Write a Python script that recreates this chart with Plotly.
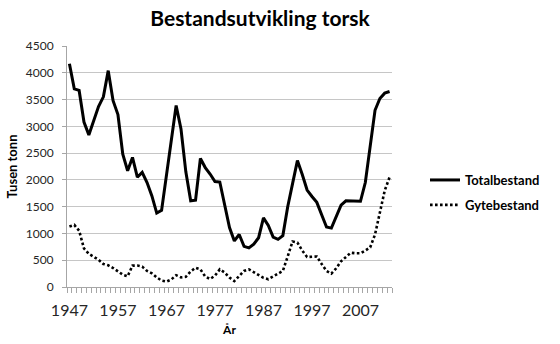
import plotly.graph_objects as go

years = list(range(1947, 2014))

totalbestand = [
    4170, 3700, 3670, 3080, 2840, 3100, 3370, 3550, 4040, 3480,
    3220, 2480, 2170, 2420, 2050, 2140, 1950, 1700, 1380, 1430,
    2090, 2700, 3390, 2950, 2150, 1610, 1620, 2400, 2230, 2110,
    1970, 1960, 1550, 1110, 860, 980, 760, 730, 800, 920,
    1290, 1150, 930, 890, 960, 1500, 1930, 2360, 2100, 1810,
    1690, 1580, 1350, 1120, 1100, 1330, 1530, 1610, 1610, 1600,
    1600, 1950, 2600, 3300, 3520, 3620, 3650,
]

gytebestand = [
    1130, 1160, 1050, 720, 620, 570, 510, 430, 405, 355,
    300, 230, 200, 400, 400, 380, 300, 255, 180, 120,
    100, 140, 220, 180, 190, 290, 360, 330, 195, 150,
    210, 330, 270, 175, 110, 210, 300, 330, 280, 215,
    170, 145, 200, 260, 300, 570, 850, 830, 680, 560,
    560, 570, 430, 300, 250, 350, 480, 560, 640, 630,
    630, 680, 740, 980, 1400, 1800, 2050,
]

x_tickvals = [1947, 1957, 1967, 1977, 1987, 1997, 2007]
x_ticktext = [str(v) for v in x_tickvals]

FONT = "Lato"
AXIS_GRAY = "#a6a6a6"
GRID_GRAY = "#c6c6c6"

fig = go.Figure()
fig.add_trace(go.Scatter(
    x=years, y=totalbestand, name="Totalbestand", mode="lines",
    legendgroup="a",
    line=dict(color="black", width=3),
))
fig.add_trace(go.Scatter(
    x=years, y=gytebestand, name="Gytebestand", mode="lines",
    legendgroup="b",
    line=dict(color="black", width=2.6, dash="2.6px,2.4px"),
))

fig.update_layout(
    width=560, height=344,
    margin=dict(l=67, r=168, t=46, b=57),
    paper_bgcolor="white", plot_bgcolor="white",
    font=dict(family=FONT, color="#262626"),
    title=dict(
        text="<b>Bestandsutvikling torsk</b>",
        font=dict(family=FONT, size=21, color="black"),
        xref="container", x=260/560, xanchor="center",
        yref="container", y=1 - 19/344, yanchor="middle",
    ),
    showlegend=True,
    legend=dict(
        xref="container", x=425/560, xanchor="left",
        yref="container", y=1 - 165/344, yanchor="top",
        font=dict(family=FONT, size=13, color="black", weight="bold"),
        bgcolor="rgba(0,0,0,0)", traceorder="grouped", tracegroupgap=5,
        itemwidth=30,
    ),
    xaxis=dict(
        range=[1946.5, 2013.5], automargin=False,
        tickmode="array", tickvals=x_tickvals, ticktext=x_ticktext,
        ticks="", showgrid=False, zeroline=False,
        showline=True, linecolor=AXIS_GRAY, linewidth=1,
        tickfont=dict(family=FONT, size=16, color="#262626"),
        ticklabelstandoff=9,
        minor=dict(tick0=1946.5, dtick=1, ticks="outside", ticklen=5,
                   tickcolor=AXIS_GRAY, tickwidth=1, showgrid=False),
        title=dict(text="<b>År</b>", font=dict(family=FONT, size=12, color="black"),
                   standoff=7),
    ),
    yaxis=dict(
        range=[0, 4500], dtick=500, tick0=0, automargin=False,
        showgrid=True, gridcolor=GRID_GRAY, gridwidth=1.3,
        zeroline=False,
        showline=True, linecolor=AXIS_GRAY, linewidth=1,
        ticks="outside", ticklen=4, tickcolor=AXIS_GRAY,
        tickfont=dict(family=FONT, size=12, color="#262626"),
        ticklabelstandoff=6,
        title=dict(text="<b>Tusen tonn</b>", font=dict(family=FONT, size=13, color="black"),
                   standoff=5),
    ),
)

fig.write_html("out.html")
